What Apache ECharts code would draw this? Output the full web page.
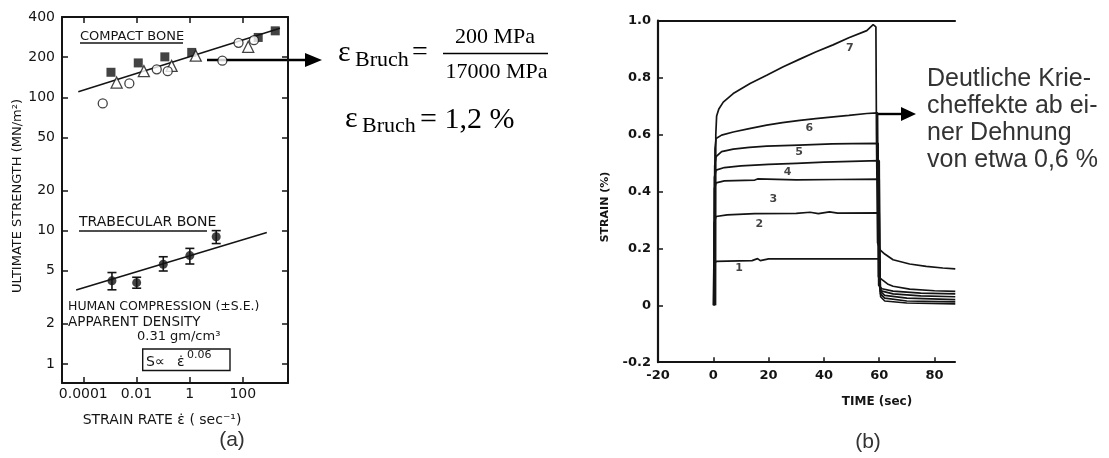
<!DOCTYPE html>
<html>
<head>
<meta charset="utf-8">
<script src="https://cdn.jsdelivr.net/npm/echarts@6/dist/echarts.min.js"></script>
<style>
  html, body { margin: 0; padding: 0; background: #fff; }
  #c { width: 1109px; height: 458px; }
</style>
</head>
<body>
<div id="c"></div>
<script>
// ---------- (a) ultimate strength vs. strain rate, log-log ----------
const rateTicks = [0.0001, 0.01, 1, 100];
const rateTickLabels = ['0.0001', '0.01', '1', '100'];
const strengthTicks = [1, 2, 5, 10, 20, 50, 100, 200, 400];

// compact bone: [strain rate (1/s), strength (MN/m²)]
const compactSquares = [[0.0011, 154], [0.0117, 181], [0.117, 201], [1.2, 217], [380, 281], [1660, 315]];
const compactTriangles = [[0.0018, 129], [0.019, 157], [0.21, 172], [1.7, 205], [160, 239]];
const compactCircles = [[0.00054, 90], [0.0054, 127], [0.058, 162], [0.15, 157], [17, 188], [69, 256], [263, 268]];
const compactFit = [[6.5e-5, 110], [2500, 330]];

// trabecular bone: mean ± S.E.
const trabRate = [0.0012, 0.0102, 0.102, 1.02, 10];
const trabMean = [4.2, 4.07, 5.6, 6.5, 9.0];
const trabLow = [3.6, 3.7, 4.98, 5.62, 8.0];
const trabHigh = [4.85, 4.47, 6.37, 7.36, 10.0];
const trabFit = [[5.4e-5, 3.59], [800, 9.7]];

// ---------- (b) creep curves: [time (s), strain (%)] ----------
const timeTicks = [-20, 0, 20, 40, 60, 80];
const curve7 = [[0.8, 0], [0.9, 0.6], [1.2, 0.665], [2, 0.69], [3.6, 0.714], [7.2, 0.744], [13.3, 0.779], [19.3, 0.808],
  [25.3, 0.838], [31.3, 0.865], [37, 0.89], [43.3, 0.915], [49, 0.94], [55.5, 0.965], [57.8, 0.986], [58.8, 0.978],
  [59, 0.6], [59.4, 0.22], [60.3, 0.195], [62, 0.18], [65, 0.16], [71, 0.145], [77, 0.137], [83, 0.131], [87.5, 0.128]];
const curve6 = [[0.5, 0], [0.6, 0.55], [1, 0.586], [3, 0.598], [7.2, 0.609], [13, 0.621], [19.3, 0.633], [25, 0.642],
  [31.3, 0.65], [37, 0.656], [43.4, 0.662], [49, 0.667], [55.5, 0.674], [59.4, 0.676], [59.7, 0.1], [61, 0.09],
  [63, 0.075], [65, 0.067], [71, 0.057], [80, 0.051], [87.5, 0.049]];
const curve5 = [[0.4, 0], [0.5, 0.49], [1, 0.522], [3, 0.54], [7.2, 0.549], [13, 0.555], [19.3, 0.559], [31, 0.563],
  [43, 0.567], [50, 0.568], [59.6, 0.569], [59.8, 0.07], [61, 0.058], [65, 0.05], [75, 0.043], [87.5, 0.04]];
const curve4 = [[0.3, 0], [0.4, 0.45], [1, 0.475], [4, 0.484], [10, 0.49], [20, 0.495], [30, 0.499], [40, 0.503],
  [50, 0.506], [60, 0.508], [60.2, 0.06], [61, 0.05], [65, 0.04], [75, 0.033], [87.5, 0.03]];
const curve3 = [[0.3, 0], [0.4, 0.41], [1, 0.43], [4, 0.437], [15, 0.44], [16, 0.444], [30, 0.441], [45, 0.442],
  [60, 0.443], [60.3, 0.05], [62, 0.035], [70, 0.025], [87.5, 0.02]];
const curve2 = [[0.2, 0], [0.3, 0.29], [1, 0.312], [5, 0.318], [15, 0.322], [30, 0.323], [35, 0.327], [38, 0.322],
  [42, 0.328], [45, 0.324], [60, 0.325], [60.4, 0.04], [62, 0.025], [70, 0.015], [87.5, 0.012]];
const curve1 = [[0, 0], [0.2, 0.14], [1, 0.154], [5, 0.155], [14, 0.157], [16, 0.164], [17, 0.157], [20, 0.163],
  [40, 0.163], [60.2, 0.163], [60.5, 0.03], [62, 0.015], [70, 0.008], [87.5, 0.005]];
const creepCurves = [curve1, curve2, curve3, curve4, curve5, curve6, curve7];
const curveTags = [['1', 9.3, 0.131], ['2', 16.6, 0.286], ['3', 21.7, 0.374], ['4', 26.9, 0.469],
  ['5', 31, 0.537], ['6', 34.7, 0.621], ['7', 49.4, 0.902]];

// ---------- drawing ----------
const L = Math.log10;
const ink = '#141414';
const sans = 'DejaVu Sans';
const logPair = p => [L(p[0]), L(p[1])];

const rateTickPos = rateTicks.map(L);
const strengthTickPos = strengthTicks.map(L);

function rateLabel(v) {
  const i = rateTickPos.findIndex(t => Math.abs(t - v) < 1e-6);
  return i >= 0 ? rateTickLabels[i] : '';
}

const frameLine = w => ({ show: true, onZero: false, lineStyle: { color: ink, width: w } });
// small text helper for the figure annotations
function note(x, y, text, font, opts) {
  opts = opts || {};
  return {
    type: 'text', x: x, y: y, rotation: opts.rotation || 0,
    style: { text: text, font: font, fill: opts.fill || ink, align: opts.align || 'left', verticalAlign: 'middle' }
  };
}
const dv = s => s + 'px "DejaVu Sans"';
const serif = s => s + 'px "Liberation Serif"';
const arial = s => s + 'px "Liberation Sans"';

const option = {
  animation: false,
  backgroundColor: '#fff',
  grid: [
    { left: 62, top: 17, width: 226, height: 366 },
    { left: 658, top: 20.7, width: 297, height: 341.5 }
  ],
  xAxis: [
    { // (a) bottom
      type: 'value', gridIndex: 0, position: 'bottom', min: -4.8, max: 3.7,
      axisLine: frameLine(2),
      axisTick: { inside: true, length: 6, customValues: rateTickPos, lineStyle: { color: ink, width: 1.5 } },
      axisLabel: { customValues: rateTickPos, formatter: rateLabel, margin: 4, color: ink, fontFamily: sans, fontSize: 14 },
      splitLine: { show: false }
    },
    { // (a) top
      type: 'value', gridIndex: 0, position: 'top', min: -4.8, max: 3.7,
      axisLine: frameLine(2),
      axisTick: { inside: true, length: 6, customValues: rateTickPos, lineStyle: { color: ink, width: 1.5 } },
      axisLabel: { show: false }, splitLine: { show: false }
    },
    { // (b) bottom
      type: 'value', gridIndex: 1, position: 'bottom', min: -20, max: 87.4,
      axisLine: frameLine(2.2),
      axisTick: { inside: true, length: 5, customValues: timeTicks, lineStyle: { color: ink, width: 1.5 } },
      axisLabel: { customValues: timeTicks, margin: 7, color: ink, fontFamily: sans, fontSize: 13, fontWeight: 'bold' },
      splitLine: { show: false }
    },
    { // (b) top border at 1.0
      type: 'value', gridIndex: 1, position: 'top', min: -20, max: 87.4,
      axisLine: frameLine(2.2), axisTick: { show: false }, axisLabel: { show: false }, splitLine: { show: false }
    }
  ],
  yAxis: [
    { // (a) left
      type: 'value', gridIndex: 0, position: 'left', min: L(0.72), max: L(400),
      axisLine: frameLine(2),
      axisTick: { inside: true, length: 6, customValues: strengthTickPos, lineStyle: { color: ink, width: 1.5 } },
      axisLabel: { customValues: strengthTickPos, formatter: v => String(Math.round(Math.pow(10, v))), margin: 7,
        color: ink, fontFamily: sans, fontSize: 14 },
      splitLine: { show: false }
    },
    { // (a) right
      type: 'value', gridIndex: 0, position: 'right', min: L(0.72), max: L(400),
      axisLine: frameLine(2),
      axisTick: { inside: true, length: 6, customValues: strengthTickPos, lineStyle: { color: ink, width: 1.5 } },
      axisLabel: { show: false }, splitLine: { show: false }
    },
    { // (b) left
      type: 'value', gridIndex: 1, position: 'left', min: -0.2, max: 1.0, interval: 0.2,
      axisLine: frameLine(2.2),
      axisTick: { inside: true, length: 5, lineStyle: { color: ink, width: 1.5 } },
      axisLabel: { formatter: v => (Math.abs(v) < 1e-9 ? '0' : v.toFixed(1)), margin: 7,
        color: ink, fontFamily: sans, fontSize: 13, fontWeight: 'bold' },
      splitLine: { show: false }
    }
  ],
  series: [
    { type: 'line', xAxisIndex: 0, yAxisIndex: 0, data: compactFit.map(logPair), symbol: 'none',
      lineStyle: { color: ink, width: 1.6 }, z: 2 },
    { type: 'line', xAxisIndex: 0, yAxisIndex: 0, data: trabFit.map(logPair), symbol: 'none',
      lineStyle: { color: ink, width: 1.6 }, z: 2 },
    { type: 'scatter', xAxisIndex: 0, yAxisIndex: 0, data: compactSquares.map(logPair), symbol: 'rect',
      symbolSize: 9, itemStyle: { color: ink }, z: 4 },
    { type: 'scatter', xAxisIndex: 0, yAxisIndex: 0, data: compactTriangles.map(logPair), symbol: 'triangle',
      symbolSize: 11, itemStyle: { color: '#fff', borderColor: ink, borderWidth: 1.3 }, z: 4 },
    { type: 'scatter', xAxisIndex: 0, yAxisIndex: 0, data: compactCircles.map(logPair), symbol: 'circle',
      symbolSize: 9, itemStyle: { color: '#fff', borderColor: ink, borderWidth: 1.3 }, z: 4 },
    { // S.E. whiskers
      type: 'custom', xAxisIndex: 0, yAxisIndex: 0, z: 3,
      data: trabRate.map((r, i) => [L(r), L(trabLow[i]), L(trabHigh[i])]),
      encode: { x: 0, y: [1, 2] },
      renderItem: function (params, api) {
        const x = api.value(0);
        const lo = api.coord([x, api.value(1)]);
        const hi = api.coord([x, api.value(2)]);
        const hw = 4.5;
        const st = { stroke: ink, lineWidth: 1.6 };
        return {
          type: 'group', children: [
            { type: 'line', shape: { x1: lo[0], y1: lo[1], x2: hi[0], y2: hi[1] }, style: st },
            { type: 'line', shape: { x1: lo[0] - hw, y1: lo[1], x2: lo[0] + hw, y2: lo[1] }, style: st },
            { type: 'line', shape: { x1: hi[0] - hw, y1: hi[1], x2: hi[0] + hw, y2: hi[1] }, style: st }
          ]
        };
      }
    },
    { type: 'scatter', xAxisIndex: 0, yAxisIndex: 0,
      data: trabRate.map((r, i) => [L(r), L(trabMean[i])]), symbol: 'circle',
      symbolSize: 9, itemStyle: { color: ink }, z: 5 },
    ...creepCurves.map(c => ({
      type: 'line', xAxisIndex: 2, yAxisIndex: 2, data: c, symbol: 'none', clip: true,
      lineStyle: { color: ink, width: 1.7 }, z: 3
    })),
    { type: 'scatter', xAxisIndex: 2, yAxisIndex: 2, symbolSize: 0, z: 6,
      data: curveTags.map(t => ({ name: t[0], value: [t[1], t[2]] })),
      label: { show: true, position: 'inside', formatter: '{b}', color: ink, fontFamily: sans,
        fontSize: 11, fontWeight: 'bold' } }
  ],
  graphic: { elements: [
    // panel (a) annotations
    note(80, 37, 'COMPACT BONE', dv(13)),
    { type: 'line', shape: { x1: 80, y1: 43, x2: 183, y2: 43 }, style: { stroke: ink, lineWidth: 1.3 } },
    note(79, 222.5, 'TRABECULAR BONE', dv(14)),
    { type: 'line', shape: { x1: 79, y1: 231, x2: 207, y2: 231 }, style: { stroke: ink, lineWidth: 1.3 } },
    note(68, 306.5, 'HUMAN COMPRESSION (±S.E.)', dv(12.5)),
    note(68, 322, 'APPARENT DENSITY', dv(13.5)),
    note(137, 337, '0.31 gm/cm³', dv(13)),
    { type: 'rect', shape: { x: 142.7, y: 349, width: 87.3, height: 21.5 }, style: { fill: 'none', stroke: ink, lineWidth: 1.4 } },
    note(146, 362, 'S∝', dv(14)),
    note(177, 362, 'ε̇', dv(14)),
    note(187, 355, '0.06', dv(11)),
    note(18, 196, 'ULTIMATE STRENGTH (MN/m²)', dv(13), { rotation: Math.PI / 2, align: 'center' }),
    note(162, 420, 'STRAIN RATE ε̇ ( sec⁻¹)', dv(14), { align: 'center' }),
    note(232, 440, '(a)', arial(21), { align: 'center', fill: '#333' }),

    // arrow from (a) to the fracture-strain estimate
    { type: 'line', shape: { x1: 207, y1: 60, x2: 308, y2: 60 }, style: { stroke: '#000', lineWidth: 2.4 } },
    { type: 'polygon', shape: { points: [[305, 53], [322, 60], [305, 67]] }, style: { fill: '#000' } },

    // fracture strain formula
    note(338, 53, 'ε', serif(30), { fill: '#000' }),
    note(355, 60.3, 'Bruch', serif(22), { fill: '#000' }),
    note(412, 53, '=', serif(28), { fill: '#000' }),
    note(495, 37.6, '200 MPa', serif(22), { fill: '#000', align: 'center' }),
    { type: 'line', shape: { x1: 443, y1: 53.5, x2: 548, y2: 53.5 }, style: { stroke: '#000', lineWidth: 1.6 } },
    note(496.5, 72.6, '17000 MPa', serif(22), { fill: '#000', align: 'center' }),
    note(345, 119, 'ε', serif(30), { fill: '#000' }),
    note(362, 126, 'Bruch', serif(22), { fill: '#000' }),
    note(420, 120, '= 1,2 %', serif(30), { fill: '#000' }),

    // panel (b) annotations
    note(605, 207, 'STRAIN (%)', 'bold ' + dv(11), { rotation: Math.PI / 2, align: 'center' }),
    note(877, 402, 'TIME (sec)', 'bold ' + dv(12), { align: 'center' }),
    note(868, 442, '(b)', arial(21), { align: 'center', fill: '#333' }),
    { type: 'line', shape: { x1: 876, y1: 114, x2: 904, y2: 114 }, style: { stroke: '#000', lineWidth: 2.4 } },
    { type: 'polygon', shape: { points: [[901, 107], [916, 114], [901, 121]] }, style: { fill: '#000' } },
    note(927, 79, 'Deutliche Krie-', arial(25), { fill: '#333' }),
    note(927, 106, 'cheffekte ab ei-', arial(25), { fill: '#333' }),
    note(927, 133, 'ner Dehnung', arial(25), { fill: '#333' }),
    note(927, 160, 'von etwa 0,6 %', arial(25), { fill: '#333' })
  ] }
};

const chart = echarts.init(document.getElementById('c'), null, { renderer: 'canvas' });
chart.setOption(option);
</script>
</body>
</html>
